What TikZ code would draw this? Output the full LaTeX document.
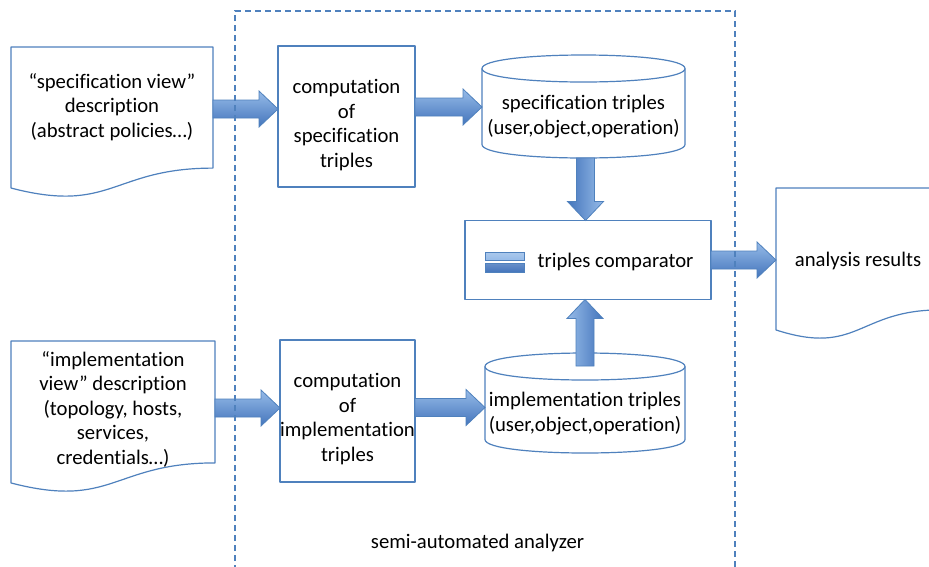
\documentclass[tikz,border=0pt]{standalone}
\usepackage{fontspec}
\setmainfont{Carlito}[Ligatures={NoCommon}]
\usetikzlibrary{calc}
\definecolor{bord}{RGB}{79,129,189}
\definecolor{alight}{RGB}{150,187,232}
\definecolor{adark}{RGB}{68,117,188}
\tikzset{
  outl/.style={draw=bord, line width=1.2pt, line join=round},
  holder/.style={draw=none, inner sep=0pt, outer sep=0pt},
  txt/.style={font=\fontsize{20.7pt}{24.5pt}\selectfont, align=center, inner sep=0pt, text=black},
  barrow/.style={draw=bord, line width=0.8pt, top color=alight, bottom color=adark},
  framebox/.style={draw=bord, color=bord, line width=1.2pt, dash pattern=on 6pt off 4pt},
}
\newcommand\docshape[1]{\draw[outl, fill=white] (#1.north west) -- (#1.north east) -- ($(#1.north east)!0.802!(#1.south east)$) .. controls ($(#1.north)!0.802!(#1.south)$) and ($(#1.north)!1.108!(#1.south)$) .. ($(#1.north west)!0.934!(#1.south west)$) -- cycle;}
\newcommand\cylshape[2]{%
 \draw[outl] ($(#1.north west)+(0,#2)$) -- ($(#1.south west)+(0,-#2)$) .. controls ($(#1.south west)+(0,#2/3)$) and ($(#1.south east)+(0,#2/3)$) .. ($(#1.south east)+(0,-#2)$) -- ($(#1.north east)+(0,#2)$);
 \draw[outl] ($(#1.north west)+(0,#2)$) .. controls ($(#1.north west)+(0,-#2/3)$) and ($(#1.north east)+(0,-#2/3)$) .. ($(#1.north east)+(0,#2)$) .. controls ($(#1.north east)+(0,7*#2/3)$) and ($(#1.north west)+(0,7*#2/3)$) .. cycle;}
\newcommand\harrow[3]{%
 \path[barrow] let \p1=(#1), \p2=(#2), \p3=(0,#3) in
  (\x1,{\y3+9pt}) -- ({\x2-19pt},{\y3+9pt}) -- ({\x2-19pt},{\y3+18pt}) -- (\x2,\y3) -- ({\x2-19pt},{\y3-18pt}) -- ({\x2-19pt},{\y3-9pt}) -- (\x1,{\y3-9pt}) -- cycle;}
\newcommand\darrow[3]{%
 \path[barrow, shading angle=-90] let \p1=(#1), \p2=(#2), \p3=(#3,0) in
  ({\x3-9pt},\y1) -- ({\x3-9pt},{\y2+19pt}) -- ({\x3-18pt},{\y2+19pt}) -- (\x3,\y2) -- ({\x3+18pt},{\y2+19pt}) -- ({\x3+9pt},{\y2+19pt}) -- ({\x3+9pt},\y1) -- cycle;}
\newcommand\uarrow[3]{%
 \path[barrow, shading angle=90] let \p1=(#1), \p2=(#2), \p3=(#3,0) in
  ({\x3-9pt},\y1) -- ({\x3-9pt},{\y2-19pt}) -- ({\x3-18pt},{\y2-19pt}) -- (\x3,\y2) -- ({\x3+18pt},{\y2-19pt}) -- ({\x3+9pt},{\y2-19pt}) -- ({\x3+9pt},\y1) -- cycle;}
\begin{document}
\begin{tikzpicture}[x=1pt,y=-1pt]
\useasboundingbox (0,0) rectangle (929,566);
\fill[white] (0,0) rectangle (929,566);
% shape holders
\node[holder, minimum width=202pt, minimum height=151pt] (d1) at (112,122.5) {};
\node[holder, minimum width=204pt, minimum height=152pt] (d2) at (113,417) {};
\node[holder, minimum width=164pt, minimum height=152pt] (d3) at (858,264) {};
\node[holder, outl, minimum width=137pt, minimum height=141pt] (b1) at (346.5,116.5) {};
\node[holder, outl, minimum width=135pt, minimum height=142pt] (b2) at (347.5,411) {};
\node[holder, minimum width=203pt, minimum height=103pt] (c1) at (583.5,106.5) {};
\node[holder, minimum width=200pt, minimum height=100pt] (c2) at (585,403) {};
\node[holder, outl, minimum width=246pt, minimum height=79pt] (cmp) at (588,260) {};
\node[holder, minimum width=500pt, minimum height=600pt, anchor=north west] (an) at (235,11) {};
\coordinate (c2top) at ($(c2.north)+(0,13)$);
\docshape{d1}
\docshape{d2}
\docshape{d3}
\cylshape{c1}{13.5}
\cylshape{c2}{13.5}
% icon
\shade[top color=alight!80!white, bottom color=alight, draw=bord, line width=0.8pt] (485,252) rectangle (524,260);
\shade[top color=adark!80!white, bottom color=adark, draw=bord, line width=0.8pt] (485,263) rectangle (524,272);
% arrows
\harrow{d1.east}{b1.west}{109}
\harrow{b1.east}{c1.west}{107}
\darrow{c1.south}{cmp.north}{585.5}
\uarrow{c2top}{cmp.south}{585}
\harrow{cmp.east}{d3.west}{260}
\harrow{d2.east}{b2.west}{408}
\harrow{b2.east}{c2.west}{407.5}
% texts
\node[txt] (d1t) at (112,107) {“specification view”\\description\\(abstract policies…)};
\node[txt] (d2t) at (113,409) {“implementation\\view” description\\(topology, hosts,\\services,\\credentials…)};
\node[txt] (b1t) at (346.5,125) {computation\\of\\specification\\triples};
\node[txt] (b2t) at (347.5,419) {computation\\of\\implementation\\triples};
\node[txt] (c1t) at (583.5,116.5) {specification triples\\(user,object,operation)};
\node[txt] (c2t) at (585,413.5) {implementation triples\\(user,object,operation)};
\node[txt] (cmpt) at (615.5,262) {triples comparator};
\node[txt] (d3t) at (858,261) {analysis results};
% analyzer frame
\draw[framebox] (an.south west) -- (an.north west) -- (an.north east) -- (an.south east);
\node[txt] (ant) at (477.5,543) {semi-automated analyzer};
\end{tikzpicture}
\end{document}
